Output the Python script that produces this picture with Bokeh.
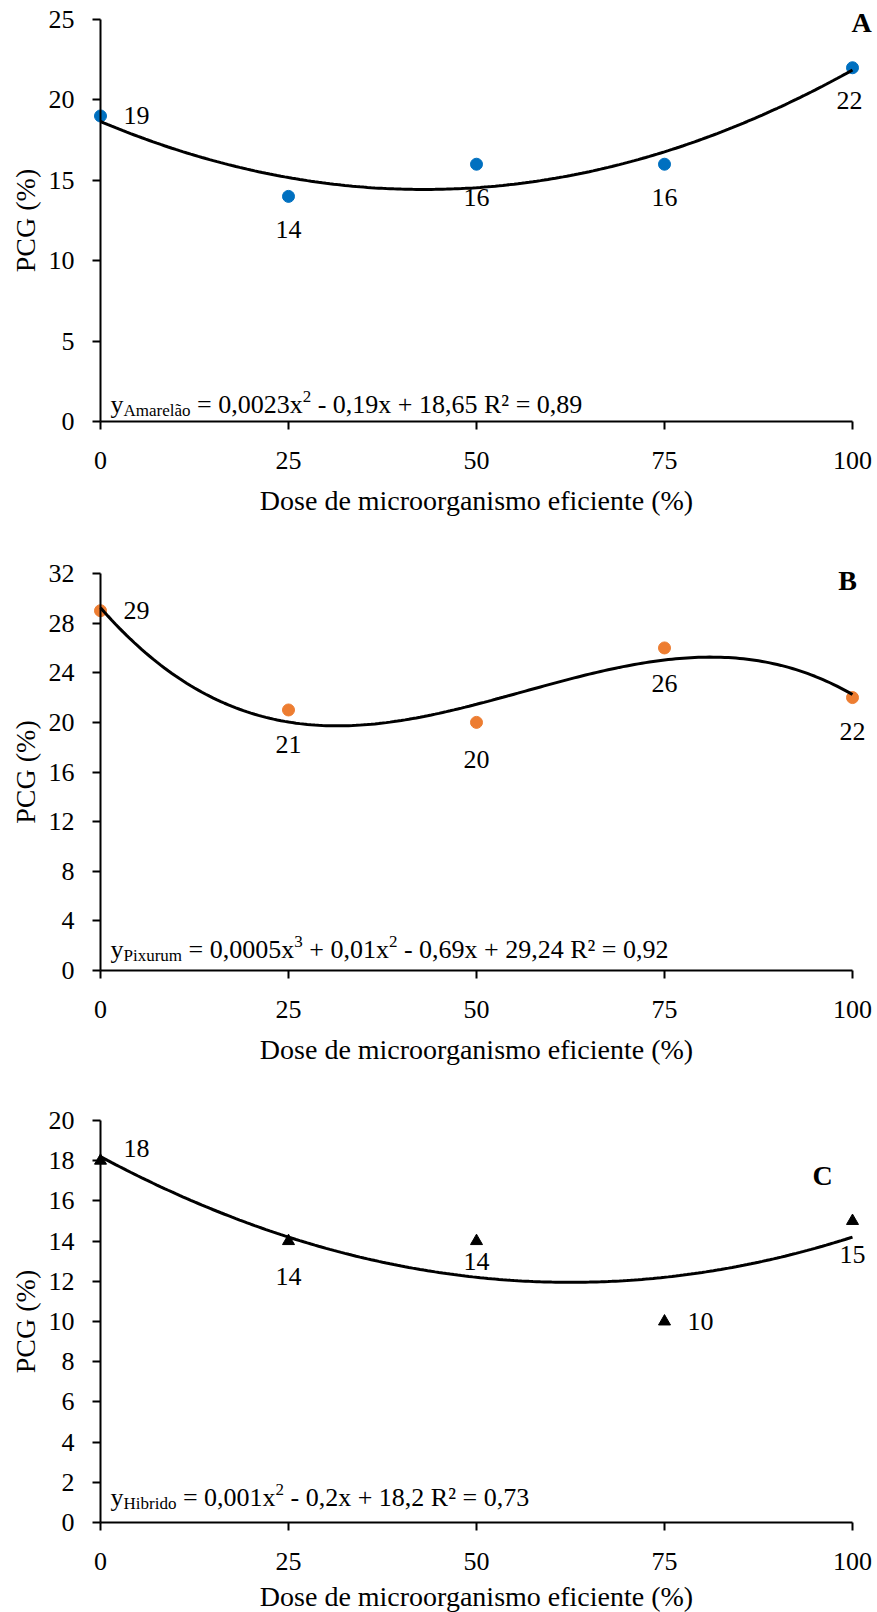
import numpy as np
from bokeh.plotting import figure
from bokeh.models import Range1d, FixedTicker, Label
from bokeh.layouts import column
from bokeh.embed import file_html
from bokeh.resources import INLINE

# ---------------- data ----------------
doses = [0, 25, 50, 75, 100]
pcg_amarelao = [19, 14, 16, 16, 22]
pcg_pixurum = [29, 21, 20, 26, 22]
pcg_hibrido = [18, 14, 14, 10, 15]

x_ticks = [0, 25, 50, 75, 100]
y_ticks_a = [0, 5, 10, 15, 20, 25]
y_ticks_b = [0, 4, 8, 12, 16, 20, 24, 28, 32]
y_ticks_c = [0, 2, 4, 6, 8, 10, 12, 14, 16, 18, 20]

x_title = "Dose de microorganismo eficiente (%)"
y_title = "PCG (%)"

eq_a = [("y", "main"), ("Amarelão", "sub"), (" = 0,0023x", "main"), ("2", "sup"),
        (" - 0,19x + 18,65 R² = 0,89", "main")]
eq_b = [("y", "main"), ("Pixurum", "sub"), (" = 0,0005x", "main"), ("3", "sup"),
        (" + 0,01x", "main"), ("2", "sup"), (" - 0,69x + 29,24 R² = 0,92", "main")]
eq_c = [("y", "main"), ("Hibrido", "sub"), (" = 0,001x", "main"), ("2", "sup"),
        (" - 0,2x + 18,2 R² = 0,73", "main")]

# ---------------- styling / layout ----------------
FONT = "Liberation Serif"
TICK_PX = 26
MAIN_PX = 26
SUB_PX = 17
LBL_PX = 26
TITLE_PX = 28
FIG_W = 877
AX_LEFT_PX = 100      # pixel column of x = 0
AX_RIGHT_PX = 852     # pixel column of x = 100

W = {' ': 250, '+': 564, ',': 250, '-': 333, '=': 564, 'A': 722, 'H': 722, 'P': 556,
     'R': 667, 'a': 444, 'b': 500, 'd': 500, 'e': 444, 'i': 278, 'l': 278, 'm': 778,
     'o': 500, 'r': 333, 'u': 500, 'x': 500, 'y': 500, 'ã': 444, '²': 300, 'n': 500,
     's': 389, 'h': 500}
for d in "0123456789":
    W[d] = 500


def text_width(s, px):
    return sum(W.get(c, 500) for c in s) * px / 1000.0


def make_fig(height, top_px, zero_px, ymax, yticks, title_off):
    xs_per_px = 100.0 / (AX_RIGHT_PX - AX_LEFT_PX)
    ys_per_px = ymax / float(zero_px - top_px)
    x0 = -AX_LEFT_PX * xs_per_px
    x1 = (FIG_W - AX_LEFT_PX) * xs_per_px
    y1 = ymax + top_px * ys_per_px
    y0 = -(height - zero_px) * ys_per_px
    p = figure(width=FIG_W, height=height, x_range=Range1d(x0, x1), y_range=Range1d(y0, y1),
               output_backend="svg", toolbar_location=None,
               min_border_left=0, min_border_right=0, min_border_top=0, min_border_bottom=0)
    p.outline_line_color = None
    p.grid.visible = False
    p.background_fill_color = "white"
    p.border_fill_color = "white"
    for ax in (p.xaxis, p.yaxis):
        ax.axis_line_color = "black"
        ax.axis_line_width = 2
        ax.major_tick_line_color = "black"
        ax.major_tick_line_width = 2
        ax.major_tick_out = 8
        ax.major_tick_in = 0
        ax.minor_tick_line_color = None
        ax.major_label_text_font = FONT
        ax.major_label_text_font_size = f"{TICK_PX}px"
        ax.major_label_text_color = "black"
    p.xaxis.ticker = FixedTicker(ticks=x_ticks)
    p.xaxis.bounds = (0, 100)
    p.xaxis.fixed_location = 0
    p.xaxis.major_label_standoff = 22
    p.yaxis.ticker = FixedTicker(ticks=yticks)
    p.yaxis.bounds = (0, ymax)
    p.yaxis.fixed_location = 0
    p.yaxis.major_label_standoff = 18
    # axis titles
    p.add_layout(Label(x=50, y=0, y_offset=-title_off, text=x_title, text_font=FONT,
                       text_font_size=f"{TITLE_PX}px", text_align="center",
                       text_baseline="middle", text_color="black"))
    p.add_layout(Label(x=0, y=ymax / 2, x_offset=-(AX_LEFT_PX - 25), text=y_title, text_font=FONT,
                       text_font_size=f"{TITLE_PX}px", text_align="center",
                       text_baseline="middle", angle=np.pi / 2, text_color="black"))
    return p


def add_equation(p, parts, base):
    cum = 10.0
    for txt, kind in parts:
        px = MAIN_PX if kind == "main" else SUB_PX
        dy = {"main": 0, "sub": -6, "sup": 8}[kind]
        stripped = txt.lstrip(" ")
        lead = text_width(txt[:len(txt) - len(stripped)], px)
        p.add_layout(Label(x=0, y=0, x_offset=cum + lead, y_offset=base + dy, text=stripped,
                           text_font=FONT, text_font_size=f"{px}px", text_align="left",
                           text_baseline="alphabetic", text_color="black"))
        cum += text_width(txt, px)


def add_panel(p, vals, deg, marker, color, msize, offsets, letter, letter_anchor, letter_off,
              eq, eq_base):
    xs = np.linspace(0, 100, 201)
    coef = np.polyfit(doses, vals, deg)
    p.scatter(doses, vals, marker=marker, size=msize, fill_color=color, line_color=color)
    p.line(xs, np.polyval(coef, xs), line_color="black", line_width=3)
    for xv, yv, (dx, dy) in zip(doses, vals, offsets):
        p.add_layout(Label(x=xv, y=yv, x_offset=dx, y_offset=dy, text=str(yv), text_font=FONT,
                           text_font_size=f"{LBL_PX}px", text_align="center",
                           text_baseline="middle", text_color="black"))
    p.add_layout(Label(x=letter_anchor[0], y=letter_anchor[1], x_offset=letter_off[0],
                       y_offset=letter_off[1], text=letter, text_font=FONT,
                       text_font_size="28px", text_font_style="bold", text_align="center",
                       text_baseline="middle", text_color="black"))
    add_equation(p, eq, eq_base)


# panel A: y=25 at 19 px, y=0 at 421 px
pA = make_fig(540, 19, 421, 25, y_ticks_a, 79)
add_panel(pA, pcg_amarelao, 2, "circle", "#0070C0", 12,
          [(36, 0), (0, -33), (0, -33), (0, -33), (-3, -33)],
          "A", (100, 25), (9, -3), eq_a, 17)

# panel B: y=32 at 33 px, y=0 at 430 px (page 573 / 970)
pB = make_fig(549, 33, 430, 32, y_ticks_b, 79)
add_panel(pB, pcg_pixurum, 3, "circle", "#ED7D31", 12,
          [(36, 0), (0, -35), (0, -37), (0, -36), (0, -34)],
          "B", (100, 32), (-5, -7), eq_b, 21)

# panel C: y=20 at 31 px, y=0 at 433 px (page 1120 / 1522)
pC = make_fig(523, 31, 433, 20, y_ticks_c, 74)
add_panel(pC, pcg_hibrido, 2, "triangle", "black", 12,
          [(36, 12), (0, -35), (0, -20), (36, 0), (0, -33)],
          "C", (100, 20), (-30, -55), eq_c, 25)

layout = column(pA, pB, pC, spacing=0)
open("out.html", "w").write(file_html(layout, INLINE))
